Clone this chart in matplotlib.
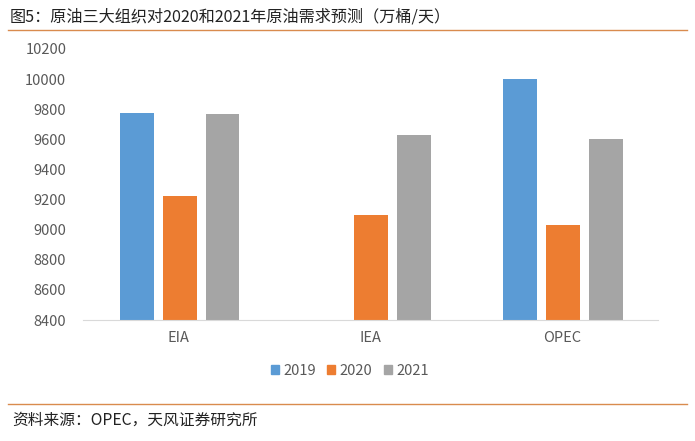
import matplotlib
matplotlib.use("Agg")
import matplotlib.pyplot as plt
import numpy as np
from matplotlib.lines import Line2D

plt.rcParams['font.family'] = ['Noto Sans CJK SC', 'DejaVu Sans']

categories = ["EIA", "IEA", "OPEC"]
years = ["2019", "2020", "2021"]
v2019 = [9775, np.nan, 10000]
v2020 = [9225, 9100, 9030]
v2021 = [9765, 9630, 9605]
colors = ["#5B9BD5", "#ED7D31", "#A5A5A5"]
yticks = [8400, 8600, 8800, 9000, 9200, 9400, 9600, 9800, 10000, 10200]

fig = plt.figure(figsize=(6.95, 4.41), dpi=100)
ax = fig.add_axes([83/695, 1-320/441, (658-83)/695, (320-49)/441])

x = np.arange(len(categories))
w = 0.177
off = 0.224
for i, (vals, c, lab) in enumerate(zip([v2019, v2020, v2021], colors, years)):
    ax.bar(x + (i-1)*off + 0.004, vals, width=w, color=c, label=lab, bottom=0)

ax.set_ylim(8400, 10200)
ax.set_xlim(-0.5, 2.5)
ax.set_yticks(yticks)
ax.set_yticklabels([str(t) for t in yticks], fontsize=10.5, color="#595959")
ax.set_xticks(x)
ax.set_xticklabels(categories, fontsize=10.5, color="#595959")
ax.tick_params(axis='x', length=0, pad=8)
ax.tick_params(axis='y', length=0, pad=12)
for s in ['top', 'right', 'left']:
    ax.spines[s].set_visible(False)
ax.spines['bottom'].set_color("#D9D9D9")

handles = [plt.Rectangle((0, 0), 1, 1, color=c) for c in colors]
fig.legend(handles, years, loc='center', bbox_to_anchor=(350/695, 1-371/441), ncol=3,
           frameon=False, fontsize=10.5, handlelength=0.55, handleheight=0.55,
           handletextpad=0.3, columnspacing=0.8, labelcolor="#595959")

fig.text(10/695, 1-17/441, "图5：原油三大组织对2020和2021年原油需求预测（万桶/天）",
         fontsize=11.6, color="#222222", va='center', ha='left')
fig.add_artist(Line2D([8/695, 687/695], [1-30/441, 1-30/441], color="#D98B4E", lw=1))
fig.add_artist(Line2D([8/695, 687/695], [1-404/441, 1-404/441], color="#D98B4E", lw=1))
fig.text(12/695, 1-420/441, "资料来源：OPEC，天风证券研究所",
         fontsize=11.3, color="#222222", va='center', ha='left')

fig.savefig("out.png", dpi=100)
